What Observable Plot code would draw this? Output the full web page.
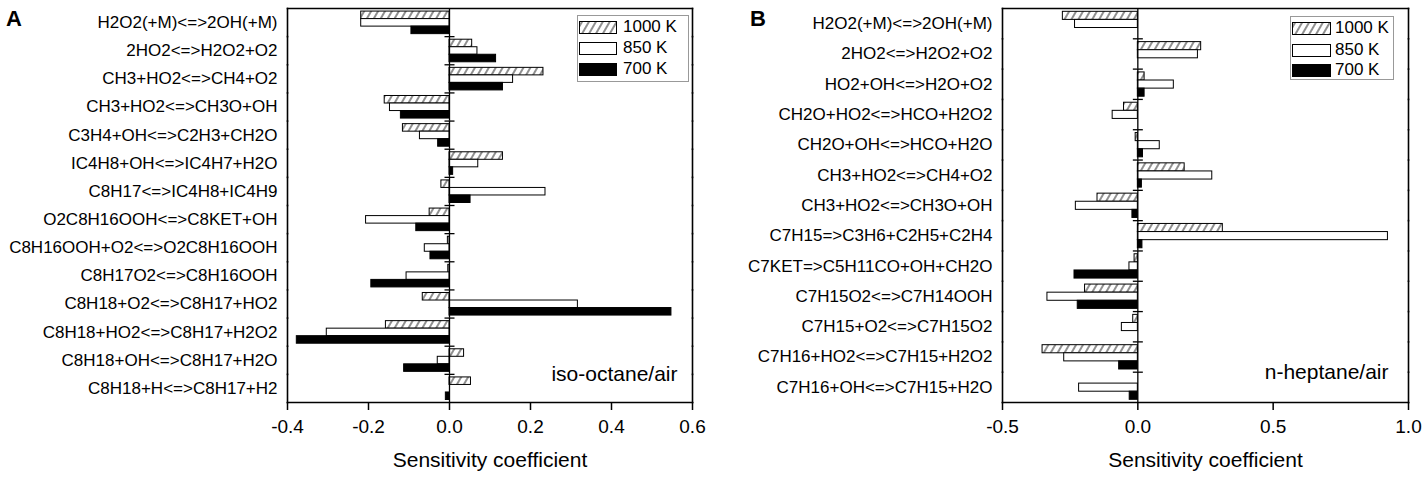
<!DOCTYPE html>
<html>
<head>
<meta charset="utf-8">
<script src="https://cdn.jsdelivr.net/npm/d3@7"></script>
<script src="https://cdn.jsdelivr.net/npm/@observablehq/plot@0.6"></script>
<style>
  body { margin: 0; background: #fff; font-family: "Liberation Sans", Arial, sans-serif; }
  #wrap { position: relative; width: 1427px; height: 480px; background: #fff; overflow: hidden; }
  #wrap > svg { position: absolute; top: 0; overflow: visible; }
  svg [aria-label="x-axis tick label"] { font-size: 19px; }
  svg [aria-label="x-axis label"] { font-size: 21px; }
  svg [aria-label="fy-axis tick label"] { font-size: 17px; }
  svg [aria-label="x-axis tick"] { stroke-width: 1.5px; }
  .panel-letter { position: absolute; font-weight: bold; font-size: 22px; line-height: 22px; color: #000; }
  .legend { position: absolute; border: 1px solid #999; background: #fff; box-sizing: border-box; }
  .legend .row { position: absolute; left: 0; height: 13px; }
  .legend .lab { position: absolute; font-size: 17px; line-height: 17px; color: #000; white-space: nowrap; }
</style>
</head>
<body>
<div id="wrap"></div>
<script>
// ---------- data ----------
const temps = ["1000 K", "850 K", "700 K"];

const reactionsA = [
  "H2O2(+M)<=>2OH(+M)",
  "2HO2<=>H2O2+O2",
  "CH3+HO2<=>CH4+O2",
  "CH3+HO2<=>CH3O+OH",
  "C3H4+OH<=>C2H3+CH2O",
  "IC4H8+OH<=>IC4H7+H2O",
  "C8H17<=>IC4H8+IC4H9",
  "O2C8H16OOH<=>C8KET+OH",
  "C8H16OOH+O2<=>O2C8H16OOH",
  "C8H17O2<=>C8H16OOH",
  "C8H18+O2<=>C8H17+HO2",
  "C8H18+HO2<=>C8H17+H2O2",
  "C8H18+OH<=>C8H17+H2O",
  "C8H18+H<=>C8H17+H2"
];
const a1000 = [-0.218, 0.056, 0.232, -0.160, -0.115, 0.132, -0.020, -0.049, -0.004, -0.003, -0.066, -0.157, 0.036, 0.053];
const a850  = [-0.218, 0.069, 0.157, -0.147, -0.073, 0.071, 0.237, -0.206, -0.061, -0.106, 0.317, -0.303, -0.029, 0.000];
const a700  = [-0.094, 0.115, 0.132, -0.120, -0.028, 0.009, 0.052, -0.082, -0.047, -0.193, 0.548, -0.377, -0.112, -0.009];
const ticksA = [-0.4, -0.2, 0.0, 0.2, 0.4, 0.6];
const domainA = [-0.4, 0.6];

const reactionsB = [
  "H2O2(+M)<=>2OH(+M)",
  "2HO2<=>H2O2+O2",
  "HO2+OH<=>H2O+O2",
  "CH2O+HO2<=>HCO+H2O2",
  "CH2O+OH<=>HCO+H2O",
  "CH3+HO2<=>CH4+O2",
  "CH3+HO2<=>CH3O+OH",
  "C7H15=>C3H6+C2H5+C2H4",
  "C7KET=>C5H11CO+OH+CH2O",
  "C7H15O2<=>C7H14OOH",
  "C7H15+O2<=>C7H15O2",
  "C7H16+HO2<=>C7H15+H2O2",
  "C7H16+OH<=>C7H15+H2O"
];
const b1000 = [-0.277, 0.234, 0.025, -0.051, -0.008, 0.173, -0.149, 0.314, -0.012, -0.195, -0.017, -0.352, 0.000];
const b850  = [-0.232, 0.222, 0.133, -0.093, 0.081, 0.275, -0.229, 0.924, -0.031, -0.334, -0.059, -0.272, -0.217];
const b700  = [0.000, 0.000, 0.025, 0.000, 0.019, 0.015, -0.020, 0.017, -0.234, -0.222, 0.000, -0.069, -0.030];
const ticksB = [-0.5, 0.0, 0.5, 1.0];
const domainB = [-0.5, 1.0];

const notes = ["iso-octane/air", "n-heptane/air"];
const axisTitle = "Sensitivity coefficient";
const panelLetters = ["A", "B"];

// ---------- drawing ----------
const wrap = document.getElementById("wrap");
const hline = {draw(ctx, size) { const r = Math.sqrt(size / Math.PI); ctx.moveTo(-r, 0); ctx.lineTo(r, 0); }};

function addHatch(svg, id) {
  const defs = d3.select(svg).insert("defs", ":first-child");
  const p = defs.append("pattern").attr("id", id)
    .attr("patternUnits", "userSpaceOnUse").attr("width", 6).attr("height", 6)
    .attr("patternTransform", "rotate(30)");
  p.append("rect").attr("width", 6).attr("height", 6).attr("fill", "white");
  p.append("line").attr("x1", 3).attr("y1", -1).attr("x2", 3).attr("y2", 7)
    .attr("stroke", "#333").attr("stroke-width", 1.1);
}

function panel({id, reactions, series, domain, ticks, note, left, width, marginLeft, marginRight, noteDx}) {
  const data = reactions.flatMap((r, i) => temps.map((t, j) => ({reaction: r, temp: t, value: series[j][i]})));
  const fills = {"1000 K": `url(#hatch-${id})`, "850 K": "white", "700 K": "black"};
  const bars = temps.map(t => Plot.barX(data.filter(d => d.temp === t), {
    fy: "reaction", y: "temp", x: "value",
    fill: fills[t], stroke: "black", strokeWidth: 1
  }));
  const svg = Plot.plot({
    width, height: 480,
    marginTop: 8, marginBottom: 78, marginLeft, marginRight,
    style: {fontFamily: "'Liberation Sans', Arial, sans-serif", fontSize: "17px", color: "black", background: "white", overflow: "visible"},
    x: {domain, ticks, tickFormat: d => d.toFixed(1), tickSize: 8, tickPadding: 9,
        label: axisTitle, labelAnchor: "center", labelArrow: "none", labelOffset: 64},
    y: {domain: temps, axis: null, paddingInner: 0, paddingOuter: 0.37, align: 0.55, round: false},
    fy: {domain: reactions, padding: 0, round: false, axis: "left", label: null, tickSize: 0, tickPadding: 10},
    marks: [
      ...bars,
      Plot.ruleX([0], {stroke: "black", strokeWidth: 1.3}),
      Plot.dot(reactions.slice(1), {fy: d => d, x: 0, frameAnchor: "top", symbol: hline, r: 5, fill: "none", stroke: "black", strokeWidth: 1.3}),
      Plot.text([note], {fy: () => reactions[reactions.length - 1], text: d => d, frameAnchor: "top-right", lineAnchor: "middle", dx: noteDx, textAnchor: "end", fontSize: 21}),
      Plot.frame({anchor: "top", facetAnchor: "top", strokeWidth: 1.6}),
      Plot.frame({anchor: "bottom", facetAnchor: "bottom", strokeWidth: 1.6}),
      Plot.frame({anchor: "left", strokeWidth: 1.6}),
      Plot.frame({anchor: "right", strokeWidth: 1.6})
    ]
  });
  const el = svg.tagName.toLowerCase() === "svg" ? svg : svg.querySelector("svg");
  addHatch(el, `hatch-${id}`);
  el.style.left = left + "px";
  wrap.appendChild(svg);
}

function legend(id, left, top, w, h, swW, textLeft, rowTops) {
  const div = document.createElement("div");
  div.className = "legend";
  div.style.left = left + "px"; div.style.top = top + "px";
  div.style.width = w + "px"; div.style.height = h + "px";
  const sw = {
    "1000 K": `<svg width="${swW}" height="13"><defs><pattern id="lg-${id}" patternUnits="userSpaceOnUse" width="6" height="6" patternTransform="rotate(30)"><rect width="6" height="6" fill="white"/><line x1="3" y1="-1" x2="3" y2="7" stroke="#333" stroke-width="1.1"/></pattern></defs><rect x="0.5" y="0.5" width="${swW - 1}" height="12" fill="url(#lg-${id})" stroke="black"/></svg>`,
    "850 K": `<svg width="${swW}" height="13"><rect x="0.5" y="0.5" width="${swW - 1}" height="12" fill="white" stroke="black"/></svg>`,
    "700 K": `<svg width="${swW}" height="13"><rect x="0" y="0" width="${swW}" height="13" fill="black"/></svg>`
  };
  temps.forEach((t, j) => {
    const row = document.createElement("div");
    row.className = "row";
    row.style.top = rowTops[j] + "px";
    row.style.left = "1px";
    row.innerHTML = sw[t];
    div.appendChild(row);
    const lab = document.createElement("div");
    lab.className = "lab";
    lab.style.left = textLeft + "px";
    lab.style.top = (rowTops[j] - 2) + "px";
    lab.textContent = t;
    div.appendChild(lab);
  });
  wrap.appendChild(div);
}

panel({id: "A", reactions: reactionsA, series: [a1000, a850, a700], domain: domainA, ticks: ticksA,
       note: notes[0], left: 0, width: 712, marginLeft: 287, marginRight: 20, noteDx: -15});
panel({id: "B", reactions: reactionsB, series: [b1000, b850, b700], domain: domainB, ticks: ticksB,
       note: notes[1], left: 712, width: 715, marginLeft: 290, marginRight: 19, noteDx: -20});

legend("A", 577, 15, 112, 67, 38, 45, [4, 25, 46]);
legend("B", 1290, 16, 104, 64, 39, 44, [4, 26, 46]);

panelLetters.forEach((t, i) => {
  const d = document.createElement("div");
  d.className = "panel-letter";
  d.textContent = t;
  d.style.left = (i === 0 ? 6 : 750) + "px";
  d.style.top = "8px";
  wrap.appendChild(d);
});
</script>
</body>
</html>
